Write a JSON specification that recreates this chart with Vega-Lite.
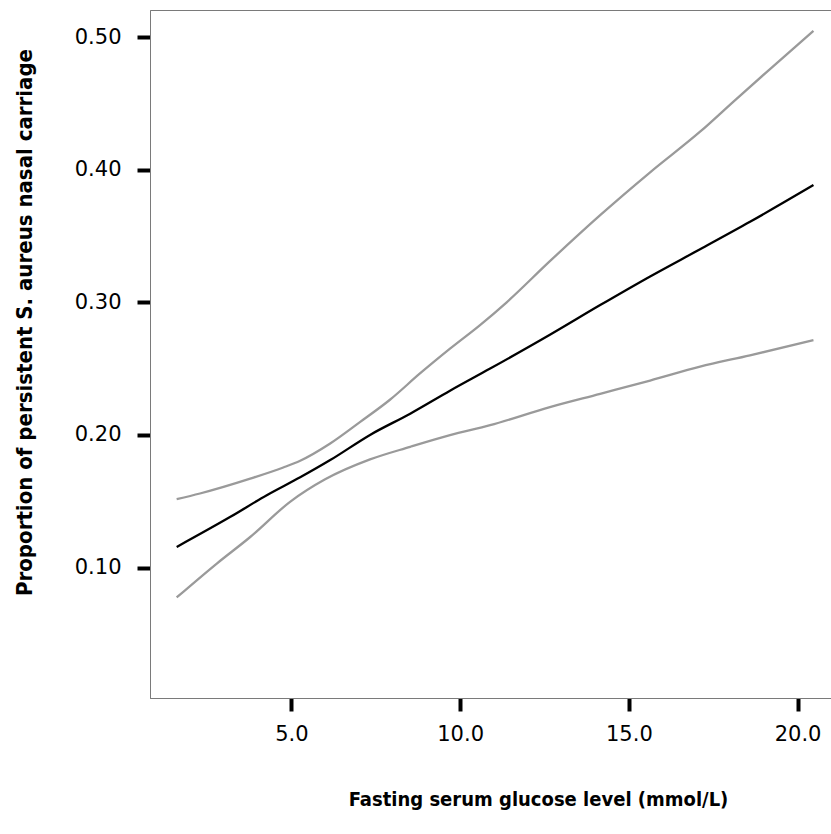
{
  "$schema": "https://vega.github.io/schema/vega-lite/v6.json",
  "autosize": {"type": "none"},
  "padding": {"left": 150, "top": 10, "right": 0, "bottom": 136},
  "width": 681,
  "height": 688,
  "background": "white",
  "config": {
    "view": {"stroke": "#7a7a7a", "strokeWidth": 1},
    "axis": {
      "grid": false,
      "domainColor": "#7a7a7a",
      "domainWidth": 1,
      "tickColor": "#000000",
      "tickWidth": 4,
      "tickSize": 13,
      "labelFont": "DejaVu Sans",
      "labelFontSize": 21,
      "labelColor": "#000000",
      "titleFont": "DejaVu Sans Condensed, Liberation Sans Narrow, sans-serif",
      "titleFontWeight": "bold",
      "titleColor": "#000000"
    }
  },
  "data": {
    "values": [
      {"glucose": 1.60, "proportion": 0.1155, "series": "Estimate"},
      {"glucose": 3.18, "proportion": 0.138, "series": "Estimate"},
      {"glucose": 4.27, "proportion": 0.1545, "series": "Estimate"},
      {"glucose": 5.26, "proportion": 0.168, "series": "Estimate"},
      {"glucose": 6.15, "proportion": 0.181, "series": "Estimate"},
      {"glucose": 7.33, "proportion": 0.200, "series": "Estimate"},
      {"glucose": 8.52, "proportion": 0.216, "series": "Estimate"},
      {"glucose": 9.70, "proportion": 0.2333, "series": "Estimate"},
      {"glucose": 10.89, "proportion": 0.2500, "series": "Estimate"},
      {"glucose": 12.66, "proportion": 0.2755, "series": "Estimate"},
      {"glucose": 14.15, "proportion": 0.2979, "series": "Estimate"},
      {"glucose": 15.63, "proportion": 0.3195, "series": "Estimate"},
      {"glucose": 17.11, "proportion": 0.3400, "series": "Estimate"},
      {"glucose": 18.59, "proportion": 0.3607, "series": "Estimate"},
      {"glucose": 20.47, "proportion": 0.3884, "series": "Estimate"},

      {"glucose": 1.60, "proportion": 0.1515, "series": "Upper"},
      {"glucose": 2.29, "proportion": 0.1558, "series": "Upper"},
      {"glucose": 3.78, "proportion": 0.167, "series": "Upper"},
      {"glucose": 4.76, "proportion": 0.1754, "series": "Upper"},
      {"glucose": 5.26, "proportion": 0.1805, "series": "Upper"},
      {"glucose": 6.15, "proportion": 0.1935, "series": "Upper"},
      {"glucose": 7.04, "proportion": 0.2098, "series": "Upper"},
      {"glucose": 7.92, "proportion": 0.2265, "series": "Upper"},
      {"glucose": 8.81, "proportion": 0.2463, "series": "Upper"},
      {"glucose": 9.70, "proportion": 0.2650, "series": "Upper"},
      {"glucose": 10.59, "proportion": 0.2828, "series": "Upper"},
      {"glucose": 11.38, "proportion": 0.3000, "series": "Upper"},
      {"glucose": 12.66, "proportion": 0.3310, "series": "Upper"},
      {"glucose": 14.15, "proportion": 0.3657, "series": "Upper"},
      {"glucose": 15.63, "proportion": 0.3980, "series": "Upper"},
      {"glucose": 17.11, "proportion": 0.4286, "series": "Upper"},
      {"glucose": 18.15, "proportion": 0.4525, "series": "Upper"},
      {"glucose": 19.09, "proportion": 0.4738, "series": "Upper"},
      {"glucose": 20.47, "proportion": 0.5046, "series": "Upper"},

      {"glucose": 1.60, "proportion": 0.0774, "series": "Lower"},
      {"glucose": 2.79, "proportion": 0.103, "series": "Lower"},
      {"glucose": 3.78, "proportion": 0.123, "series": "Lower"},
      {"glucose": 4.96, "proportion": 0.1495, "series": "Lower"},
      {"glucose": 6.00, "proportion": 0.1665, "series": "Lower"},
      {"glucose": 7.33, "proportion": 0.1815, "series": "Lower"},
      {"glucose": 8.52, "proportion": 0.1910, "series": "Lower"},
      {"glucose": 9.70, "proportion": 0.1998, "series": "Lower"},
      {"glucose": 10.89, "proportion": 0.2073, "series": "Lower"},
      {"glucose": 12.66, "proportion": 0.2210, "series": "Lower"},
      {"glucose": 14.15, "proportion": 0.2310, "series": "Lower"},
      {"glucose": 15.63, "proportion": 0.2410, "series": "Lower"},
      {"glucose": 17.11, "proportion": 0.2515, "series": "Lower"},
      {"glucose": 18.59, "proportion": 0.2600, "series": "Lower"},
      {"glucose": 20.47, "proportion": 0.2715, "series": "Lower"}
    ]
  },
  "mark": {"type": "line", "strokeWidth": 2.3, "interpolate": "monotone"},
  "encoding": {
    "x": {
      "field": "glucose",
      "type": "quantitative",
      "scale": {"domain": [0.81, 20.99], "nice": false, "zero": false},
      "axis": {
        "values": [5, 10, 15, 20],
        "format": ".1f",
        "labelPadding": 12,
        "title": "Fasting serum glucose level (mmol/L)",
        "titleFontSize": 20,
        "titleX": 388,
        "titleY": 101,
        "titleAlign": "center",
        "titleBaseline": "middle"
      }
    },
    "y": {
      "field": "proportion",
      "type": "quantitative",
      "scale": {"domain": [0.0016, 0.5204], "nice": false, "zero": false},
      "axis": {
        "values": [0.1, 0.2, 0.3, 0.4, 0.5],
        "format": ".2f",
        "labelPadding": 16,
        "title": "Proportion of persistent S. aureus nasal carriage",
        "titleFontSize": 22,
        "titleX": -126,
        "titleY": 312,
        "titleAngle": -90,
        "titleAlign": "center",
        "titleBaseline": "middle"
      }
    },
    "detail": {"field": "series"},
    "color": {
      "field": "series",
      "type": "nominal",
      "scale": {"domain": ["Estimate", "Lower", "Upper"], "range": ["#000000", "#9a9a9a", "#9a9a9a"]},
      "legend": null
    }
  }
}
